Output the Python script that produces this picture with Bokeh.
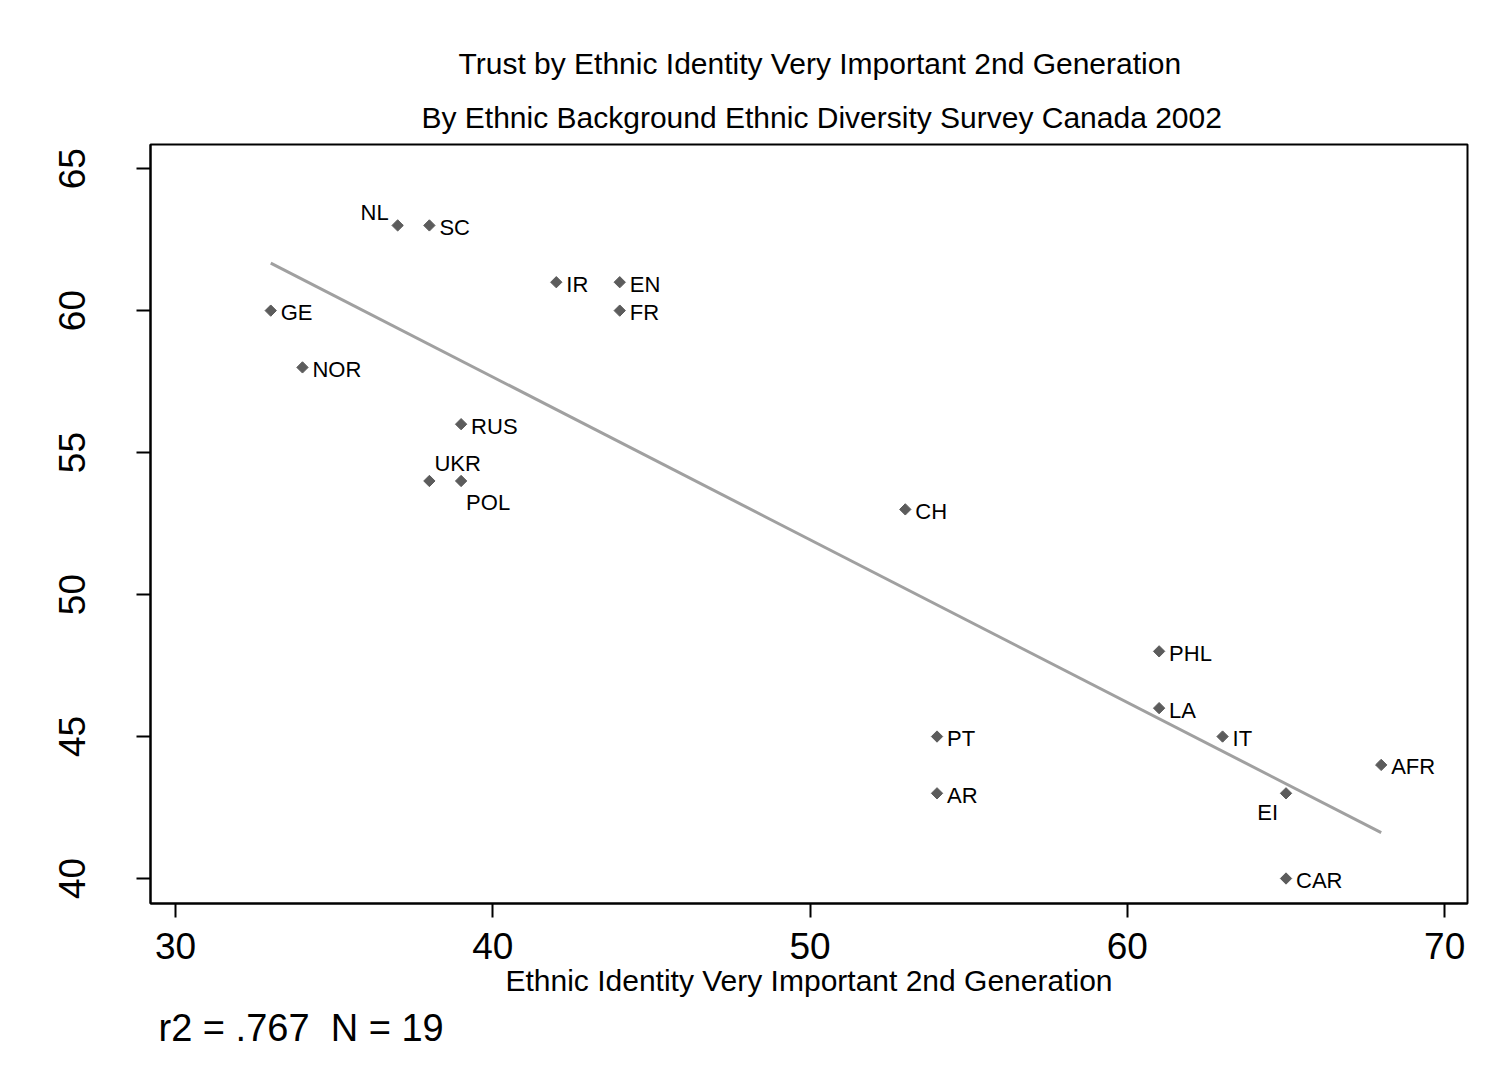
import numpy as np
from bokeh.plotting import figure
from bokeh.models import ColumnDataSource, Title, Range1d, FixedTicker, LabelSet
from bokeh.layouts import column
from bokeh.core.properties import value
from bokeh.embed import file_html
from bokeh.resources import INLINE

# ---- data ----
codes = ["NL", "SC", "IR", "EN", "FR", "GE", "NOR", "RUS", "UKR", "POL",
         "CH", "PHL", "LA", "PT", "IT", "AFR", "AR", "EI", "CAR"]
identity = [37, 38, 42, 44, 44, 33, 34, 39, 38, 39,
            53, 61, 61, 54, 63, 68, 54, 65, 65]
trust = [63, 63, 61, 61, 60, 60, 58, 56, 54, 54,
         53, 48, 46, 45, 45, 44, 43, 43, 40]
x_ticks = [30, 40, 50, 60, 70]
y_ticks = [40, 45, 50, 55, 60, 65]
title1 = "Trust by Ethnic Identity Very Important 2nd Generation"
title2 = "By Ethnic Background Ethnic Diversity Survey Canada 2002"
x_label = "Ethnic Identity Very Important 2nd Generation"
note = "r2 = .767\u00a0 N = 19"

# label placement (style only)
default = ("left", 10, -2)
pos = {"NL": ("right", -9, 13), "UKR": ("left", 5, 17),
       "POL": ("left", 5, -22), "EI": ("right", -8, -19)}
align = [pos.get(c, default)[0] for c in codes]
xo = [pos.get(c, default)[1] for c in codes]
yo = [pos.get(c, default)[2] for c in codes]

src = ColumnDataSource(dict(x=identity, y=trust, code=codes,
                            align=align, xo=xo, yo=yo))

FONT = "Liberation Sans"

p = figure(width=1485, height=1073, output_backend="svg", toolbar_location=None,
           x_range=Range1d(29.21, 70.72), y_range=Range1d(39.12, 65.85),
           min_border_left=150, min_border_right=18, min_border_top=144,
           min_border_bottom=170)
p.title = None
p.background_fill_color = "white"
p.border_fill_color = "white"
p.outline_line_color = "black"
p.outline_line_width = 2
p.grid.visible = False

# regression line computed from the data
xa = np.array(identity, dtype=float)
ya = np.array(trust, dtype=float)
b, a = np.polyfit(xa, ya, 1)
xl = [xa.min(), xa.max()]
p.line(xl, [a + b * v for v in xl], line_color="#a0a0a0", line_width=3)

p.scatter("x", "y", source=src, marker="square", angle=np.pi / 4, size=8,
          fill_color="#5c5c5c", line_color="#5c5c5c")

labels = LabelSet(x="x", y="y", text="code", source=src, text_align="align",
                  x_offset="xo", y_offset="yo", text_baseline="middle",
                  text_font=value(FONT), text_font_size="22px", text_color="black")
p.add_layout(labels)

for ax in (p.xaxis[0], p.yaxis[0]):
    ax.axis_line_color = "black"
    ax.axis_line_width = 2
    ax.major_tick_line_color = "black"
    ax.major_tick_line_width = 2
    ax.major_tick_out = 14
    ax.major_tick_in = 0
    ax.minor_tick_line_color = None
    ax.major_label_text_font = FONT
    ax.major_label_text_font_size = "37px"
    ax.major_label_text_color = "black"

p.xaxis.ticker = FixedTicker(ticks=x_ticks)
p.yaxis.ticker = FixedTicker(ticks=y_ticks)
p.xaxis.major_label_standoff = 15
p.yaxis.major_label_standoff = 51
p.yaxis.major_label_orientation = "vertical"

p.xaxis.axis_label = x_label
p.xaxis.axis_label_text_font = FONT
p.xaxis.axis_label_text_font_size = "30px"
p.xaxis.axis_label_text_font_style = "normal"
p.xaxis.axis_label_standoff = 2
p.xaxis.axis_label_text_color = "black"

p.add_layout(Title(text=title2, align="left", text_font=FONT,
                   text_font_size="30px", text_font_style="normal",
                   text_color="black", offset=271, standoff=22), "above")
p.add_layout(Title(text=title1, align="left", text_font=FONT,
                   text_font_size="30px", text_font_style="normal",
                   text_color="black", offset=308, standoff=16), "above")
p.add_layout(Title(text=note, align="left", text_font=FONT,
                   text_font_size="38px", text_font_style="normal",
                   text_color="black", offset=8, standoff=10), "below")

layout = column(p, spacing=0)

open("out.html", "w").write(file_html(layout, INLINE))
